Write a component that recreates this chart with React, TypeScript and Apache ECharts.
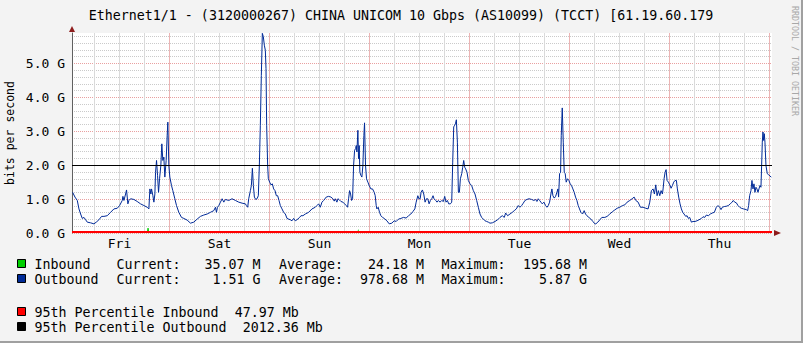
import React, { useEffect, useRef } from 'react';
import * as echarts from 'echarts';

const TITLE = 'Ethernet1/1 - (3120000267) CHINA UNICOM 10 Gbps (AS10099) (TCCT) [61.19.60.179';
const Y_LABEL = 'bits per second';
const WATERMARK = 'RRDTOOL / TOBI OETIKER';

// hours counted from Fri 00:00
const DAY_NAMES = ['Fri', 'Sat', 'Sun', 'Mon', 'Tue', 'Wed', 'Thu'];
const DAY_LABEL_HOURS = [12, 36, 60, 84, 108, 132, 156];
const MIDNIGHT_HOURS = [24, 48, 72, 96, 120, 144, 168];
const SIX_HOUR_GRID = [6, 12, 18, 30, 36, 42, 54, 60, 66, 78, 84, 90, 102, 108, 114, 126, 132, 138, 150, 156, 162];
const X_RANGE = [0.6, 168.6];
const Y_MAX = 5.9; // Gbps
const Y_STEP = 0.2;

const P95_IN = 0.04797; // Gbps
const P95_OUT = 2.01236; // Gbps

// [hour, Gbps]
const INBOUND: [number, number][] = [
  [0.75, 0.03], [18.6, 0.03], [18.7, 0.15], [19.0, 0.15], [19.1, 0.03],
  [63.1, 0.03], [63.3, 0.06], [63.5, 0.03], [66.2, 0.03], [66.4, 0.07], [66.6, 0.03],
  [69.1, 0.03], [69.3, 0.12], [69.5, 0.03], [112.5, 0.03], [112.7, 0.07], [112.9, 0.03],
  [158.0, 0.03], [158.15, 0.06], [158.3, 0.03], [168.43, 0.035],
];

const OUTBOUND: [number, number][] = [
  [0.75, 1.20], [1.31, 1.06], [1.87, 0.96], [2.27, 0.71], [2.67, 0.56], [3.07, 0.43], [3.47, 0.46], [3.87, 0.39],
  [4.27, 0.32], [5.07, 0.30], [5.86, 0.27], [6.42, 0.32], [7.06, 0.39], [7.70, 0.49], [8.26, 0.49], [9.06, 0.51],
  [9.86, 0.61], [10.66, 0.71], [11.46, 0.73], [12.02, 0.81], [12.66, 0.96], [12.82, 1.08], [13.06, 0.96], [13.46, 1.15],
  [13.69, 1.27], [14.01, 0.86], [14.25, 0.96], [14.65, 1.01], [15.45, 0.99], [16.25, 0.93], [17.05, 0.86], [17.85, 0.81],
  [18.65, 0.76], [19.05, 0.71], [19.29, 1.30], [19.53, 1.15], [19.69, 1.30], [20.01, 1.10], [20.25, 0.91], [20.49, 1.15],
  [20.65, 1.79], [20.89, 2.14], [21.13, 1.70], [21.37, 1.20], [21.61, 1.60], [21.92, 1.99], [22.16, 2.63], [22.40, 2.14],
  [22.64, 2.24], [22.88, 1.65], [23.20, 2.14], [23.44, 2.88], [23.60, 3.27], [23.84, 1.99], [24.08, 1.65], [24.48, 1.40],
  [24.80, 1.25], [25.28, 1.01], [25.68, 0.81], [26.24, 0.61], [26.88, 0.46], [27.44, 0.43], [28.24, 0.38], [29.04, 0.29],
  [29.83, 0.32], [30.63, 0.41], [31.43, 0.49], [32.23, 0.53], [33.03, 0.56], [33.83, 0.61], [34.63, 0.66], [35.03, 0.76],
  [35.27, 0.61], [35.51, 0.76], [35.83, 0.81], [36.23, 0.91], [36.63, 1.01], [37.03, 0.91], [37.42, 0.99], [38.22, 0.96],
  [39.02, 1.01], [39.82, 0.96], [40.62, 0.91], [41.42, 0.88], [42.22, 0.86],
  [42.45, 0.81], [42.77, 0.76], [43.01, 1.01], [43.41, 1.25], [43.65, 1.40], [43.89, 1.91], [44.13, 1.40], [44.37, 1.06],
  [44.69, 0.99], [45.01, 1.01], [45.32, 1.10], [45.56, 1.99], [45.80, 3.18], [46.04, 4.65], [46.28, 5.89], [46.52, 5.79],
  [46.76, 5.54], [47.00, 5.39], [47.16, 4.85], [47.32, 3.18], [47.56, 1.99], [47.72, 1.60], [48.04, 1.50], [48.36, 1.42],
  [48.68, 1.45], [49.00, 1.30], [49.32, 1.25], [49.64, 1.10], [49.96, 1.10], [50.28, 0.96], [50.60, 0.81], [51.00, 0.71],
  [51.40, 0.61], [51.80, 0.56], [52.20, 0.43], [52.60, 0.41], [53.00, 0.39], [53.39, 0.36], [53.79, 0.43], [54.19, 0.36],
  [54.59, 0.39], [55.23, 0.46], [55.55, 0.51], [56.03, 0.51], [56.59, 0.56], [57.39, 0.61], [58.19, 0.71], [58.99, 0.76],
  [59.39, 0.81], [59.79, 0.86], [60.19, 0.76], [60.59, 0.91], [60.99, 0.96], [61.62, 1.06], [62.18, 1.08], [62.74, 1.06],
  [63.22, 1.01], [63.54, 0.94], [63.78, 1.01], [64.18, 0.91], [64.42, 1.01], [64.74, 0.98], [65.14, 0.93], [65.62, 0.91],
  [66.02, 0.86], [66.42, 0.81], [66.74, 0.76], [66.98, 1.01], [67.22, 1.25], [67.46, 1.15], [67.70, 0.96], [67.94, 1.01],
  [68.18, 1.99], [68.42, 2.44], [68.66, 2.49], [68.82, 2.58], [68.98, 2.39], [69.21, 3.03], [69.37, 2.19], [69.53, 2.58],
  [69.69, 1.79], [69.93, 1.70], [70.17, 1.65], [70.41, 1.99], [70.65, 2.88], [70.81, 3.25], [71.05, 1.99], [71.29, 1.60],
  [71.61, 1.50], [71.93, 1.40], [72.33, 1.30], [72.73, 1.30], [73.13, 1.20], [73.37, 1.10], [73.61, 0.81], [73.77, 0.71],
  [74.09, 0.76], [74.41, 0.61], [74.73, 0.51], [75.13, 0.46], [75.53, 0.43], [76.17, 0.36], [76.73, 0.27], [77.36, 0.29],
  [77.92, 0.36], [78.40, 0.34], [78.96, 0.41], [79.52, 0.43], [80.16, 0.46], [80.80, 0.44], [81.36, 0.51], [81.92, 0.56],
  [82.40, 0.63], [82.88, 0.71], [83.20, 0.91], [83.60, 1.10], [83.84, 1.01], [84.16, 1.01],
  [84.38, 1.20], [84.70, 1.27], [85.02, 1.15], [85.34, 0.91], [85.66, 1.01], [85.98, 1.01], [86.30, 0.86], [86.62, 0.96],
  [86.94, 1.01], [87.25, 1.10], [87.49, 1.01], [87.89, 0.96], [88.21, 0.91], [88.53, 0.96], [88.93, 0.91], [89.33, 0.96],
  [89.73, 0.93], [90.05, 1.08], [90.37, 0.91], [90.69, 0.96], [91.01, 0.86], [91.41, 0.86], [91.73, 0.91], [91.97, 2.09],
  [92.21, 3.13], [92.45, 3.18], [92.61, 3.22], [92.85, 3.34], [93.09, 2.68], [93.33, 1.20], [93.57, 1.20], [93.81, 1.60],
  [94.13, 1.75], [94.37, 1.94], [94.61, 2.14], [94.85, 1.94], [95.08, 1.89], [95.40, 1.79], [95.72, 1.55], [96.12, 1.45],
  [96.52, 1.40], [96.92, 1.25], [97.32, 1.15], [97.72, 0.96], [98.12, 0.76], [98.52, 0.56], [98.92, 0.46], [99.32, 0.41],
  [99.72, 0.36], [100.12, 0.34], [100.52, 0.32], [100.92, 0.29], [101.48, 0.30], [102.12, 0.34], [102.76, 0.39], [103.31, 0.46],
  [103.87, 0.51], [104.35, 0.46], [104.67, 0.59], [105.15, 0.51], [105.71, 0.56], [106.27, 0.61], [106.75, 0.66], [107.23, 0.71],
  [107.71, 0.81], [108.11, 0.76], [108.51, 0.81], [108.91, 0.88], [109.31, 0.96], [109.79, 0.99], [110.27, 1.01], [110.91, 0.99],
  [111.46, 0.96], [111.86, 0.99], [112.18, 0.93], [112.50, 1.01], [112.82, 0.96], [113.14, 0.91], [113.46, 0.86], [113.86, 0.91],
  [114.26, 0.81], [114.58, 0.76], [114.90, 0.81], [115.22, 0.91], [115.54, 1.15], [115.78, 1.30], [116.02, 1.10], [116.34, 1.03],
  [116.66, 1.08], [116.98, 1.20], [117.22, 1.30], [117.38, 1.06], [117.62, 1.75], [117.86, 1.79], [118.02, 2.88], [118.26, 3.69],
  [118.50, 2.68], [118.74, 1.79], [118.97, 1.75], [119.21, 1.50], [119.53, 1.60], [119.85, 1.55], [120.17, 1.45], [120.49, 1.40],
  [120.81, 1.30], [121.13, 1.20], [121.45, 1.06], [121.77, 0.96], [122.09, 0.81], [122.41, 0.71], [122.73, 0.61], [123.13, 0.56],
  [123.53, 0.66], [123.85, 0.56], [124.17, 0.51], [124.65, 0.46], [125.13, 0.41], [125.61, 0.34], [126.09, 0.27],
  [126.32, 0.27], [126.80, 0.32], [127.28, 0.39], [127.76, 0.46], [128.48, 0.46], [129.03, 0.49], [129.67, 0.56], [130.31, 0.63],
  [130.87, 0.68], [131.43, 0.73], [132.07, 0.76], [132.71, 0.81], [133.27, 0.83], [133.83, 0.91], [134.47, 0.96], [135.03, 1.01],
  [135.51, 1.06], [135.91, 0.96], [136.47, 0.91], [137.02, 0.76], [137.66, 0.76], [138.30, 0.73], [138.86, 0.71], [139.26, 0.91],
  [139.66, 1.25], [140.06, 1.30], [140.38, 1.15], [140.70, 1.42], [141.02, 1.10], [141.34, 1.25], [141.66, 1.10], [141.98, 1.25],
  [142.30, 1.15], [142.46, 1.30], [142.70, 1.60], [142.94, 1.79], [143.18, 1.87], [143.42, 1.55], [143.74, 1.50], [144.06, 1.42],
  [144.38, 1.32], [144.70, 1.40], [145.01, 1.50], [145.33, 1.55], [145.65, 1.55], [145.89, 1.30], [146.21, 1.06], [146.53, 0.86],
  [146.85, 0.71], [147.17, 0.61], [147.49, 0.56], [147.89, 0.49], [148.21, 0.51], [148.53, 0.43], [148.85, 0.46], [149.25, 0.32],
  [149.65, 0.34], [150.13, 0.34], [150.61, 0.36], [151.09, 0.39], [151.65, 0.43], [152.05, 0.48], [152.45, 0.46], [152.85, 0.53],
  [153.32, 0.51], [153.80, 0.56], [154.28, 0.59], [154.76, 0.61], [155.24, 0.76], [155.64, 0.81], [156.04, 0.76], [156.36, 0.69],
  [156.68, 0.76], [157.16, 0.78], [157.64, 0.79], [158.12, 0.81], [158.60, 0.86], [159.00, 0.91], [159.32, 0.96], [159.64, 0.91],
  [160.04, 0.89], [160.44, 0.81], [160.84, 0.76], [161.23, 0.73], [161.79, 0.71], [162.43, 0.69], [162.75, 0.66], [162.99, 0.81],
  [163.23, 1.10], [163.55, 1.25], [163.79, 1.55], [164.03, 1.30], [164.27, 1.45], [164.51, 1.20], [164.75, 1.35], [164.99, 1.30],
  [165.23, 1.20], [165.47, 1.30], [165.71, 1.40], [165.95, 1.35], [166.11, 1.99], [166.27, 2.68], [166.43, 2.98], [166.59, 2.73],
  [166.75, 2.93], [166.91, 2.68], [167.15, 1.99], [167.47, 1.75], [167.79, 1.72], [168.11, 1.68], [168.43, 1.65],
];

const STAT_NAMES = ['Inbound', 'Outbound'];
const STAT_COLORS = ['#00CF00', '#002A97'];
const STAT_CURRENT = ['35.07 M', '1.51 G'];
const STAT_AVERAGE = ['24.18 M', '978.68 M'];
const STAT_MAXIMUM = ['195.68 M', '5.87 G'];
const PERCENTILE_LABELS = ['95th Percentile Inbound  47.97 Mb', '95th Percentile Outbound  2012.36 Mb'];
const PERCENTILE_COLORS = ['#FF0000', '#000000'];

const MONO = '"DejaVu Sans Mono", monospace';
const MAJOR_GRID = '#E9A0A0';
const MINOR_GRID = '#CACACA';
const MAJOR_VGRID = '#ECB4B4';
const MINOR_VGRID = '#DADADA';

function txt(text: string, x: number, y: number, opts: any = {}) {
  const align = opts.align || 'left';
  const vAlign = opts.vAlign || 'middle';
  return {
    type: 'text',
    x,
    y,
    rotation: opts.rotation || 0,
    silent: true,
    z: 100,
    style: {
      text,
      x: 0,
      y: 0,
      fill: opts.fill || '#000000',
      font: `${opts.size || 13.3}px ${MONO}`,
      align,
      textAlign: align,
      verticalAlign: vAlign,
      textVerticalAlign: vAlign,
    },
  };
}

// vertical grid segments built from the grid hours: bottom, top, gap
const segments = (hours: number[]) =>
  hours.flatMap((h) => [[h, 0], [h, Y_MAX], [h, null]] as [number, number | null][]);

export default function App() {
  const ref = useRef<HTMLDivElement>(null);

  useEffect(() => {
    document.body.style.margin = '0';
    if (!ref.current) return;
    const chart = echarts.init(ref.current, undefined, { renderer: 'svg' });

    const legendRowY = [264, 279];
    const pctRowY = [312, 327];
    const graphic: any[] = [
      txt(TITLE, 401, 15, { align: 'center', size: 13.3 }),
      txt(Y_LABEL, 10, 133, { align: 'center', rotation: Math.PI / 2, size: 11.5 }),
      txt(WATERMARK, 795, 61, { align: 'center', rotation: -Math.PI / 2, size: 8.3, fill: '#A8A8A8' }),
      { type: 'polygon', silent: true, z: 100, shape: { points: [[69, 32], [75, 32], [72, 26]] }, style: { fill: '#8E1C1C' } },
      { type: 'polygon', silent: true, z: 100, shape: { points: [[774, 230], [774, 236], [781, 233]] }, style: { fill: '#8E1C1C' } },
      { type: 'line', silent: true, z: 100, shape: { x1: 802, y1: 0, x2: 802, y2: 343 }, style: { stroke: '#A0A0A0', lineWidth: 2 } },
      { type: 'line', silent: true, z: 100, shape: { x1: 0, y1: 342, x2: 803, y2: 342 }, style: { stroke: '#A0A0A0', lineWidth: 2 } },
    ];
    STAT_NAMES.forEach((name, i) => {
      const y = legendRowY[i];
      graphic.push({ type: 'rect', silent: true, z: 100, shape: { x: 17.5, y: y - 4.5, width: 8, height: 8 }, style: { fill: STAT_COLORS[i], stroke: '#000000', lineWidth: 1 } });
      graphic.push(txt(name, 34.5, y));
      graphic.push(txt('Current:', 116.5, y));
      graphic.push(txt(STAT_CURRENT[i], 260.5, y, { align: 'right' }));
      graphic.push(txt('Average:', 279, y));
      graphic.push(txt(STAT_AVERAGE[i], 424, y, { align: 'right' }));
      graphic.push(txt('Maximum:', 441.5, y));
      graphic.push(txt(STAT_MAXIMUM[i], 587, y, { align: 'right' }));
    });
    PERCENTILE_LABELS.forEach((label, i) => {
      const y = pctRowY[i];
      graphic.push({ type: 'rect', silent: true, z: 100, shape: { x: 17.5, y: y - 4.5, width: 8, height: 8 }, style: { fill: PERCENTILE_COLORS[i], stroke: '#000000', lineWidth: 1 } });
      graphic.push(txt(label, 34.5, y));
    });

    const isMajor = (v: number) => Math.abs(v - Math.round(v)) < 1e-6;

    chart.setOption({
      animation: false,
      backgroundColor: '#F3F3F3',
      grid: {
        left: 72,
        top: 33,
        width: 700,
        height: 200,
        show: true,
        backgroundColor: '#FFFFFF',
        borderWidth: 0,
      },
      xAxis: {
        type: 'value',
        min: X_RANGE[0],
        max: X_RANGE[1],
        axisLine: { show: false },
        axisTick: { show: false },
        splitLine: { show: false },
        axisLabel: {
          customValues: DAY_LABEL_HOURS,
          formatter: (v: number) => {
            const i = DAY_LABEL_HOURS.findIndex((h) => Math.abs(h - v) < 1e-6);
            return i >= 0 ? DAY_NAMES[i] : '';
          },
          color: '#000000',
          fontFamily: MONO,
          fontSize: 13,
          margin: 4,
        },
      },
      yAxis: {
        type: 'value',
        min: 0,
        max: Y_MAX,
        interval: Y_STEP,
        axisLine: { show: true, lineStyle: { color: '#606060', width: 1 } },
        axisTick: { show: false },
        axisLabel: {
          formatter: (v: number) => (isMajor(v) ? `${v.toFixed(1)} G` : ''),
          color: '#000000',
          fontFamily: MONO,
          fontSize: 13,
          margin: 7,
        },
        splitLine: {
          show: true,
          showMaxLine: false,
          lineStyle: { color: [MAJOR_GRID, MINOR_GRID, MINOR_GRID, MINOR_GRID, MINOR_GRID], type: [1, 1], width: 1 },
        },
      },
      series: [
        { type: 'line', data: segments(SIX_HOUR_GRID), showSymbol: false, lineStyle: { width: 1, color: MINOR_VGRID } },
        { type: 'line', data: segments(MIDNIGHT_HOURS), showSymbol: false, lineStyle: { width: 1, color: MAJOR_VGRID } },
        {
          name: 'Inbound',
          type: 'line',
          data: INBOUND,
          showSymbol: false,
          lineStyle: { width: 0, color: STAT_COLORS[0] },
          itemStyle: { color: STAT_COLORS[0] },
          areaStyle: { color: STAT_COLORS[0], opacity: 1 },
        },
        {
          name: 'Outbound',
          type: 'line',
          data: OUTBOUND,
          showSymbol: false,
          lineStyle: { width: 1, color: STAT_COLORS[1] },
          itemStyle: { color: STAT_COLORS[1] },
          markLine: {
            silent: true,
            symbol: ['none', 'none'],
            label: { show: false },
            data: [
              { yAxis: P95_IN, lineStyle: { color: PERCENTILE_COLORS[0], width: 2, type: 'solid' } },
              { yAxis: P95_OUT, lineStyle: { color: PERCENTILE_COLORS[1], width: 1, type: 'solid' } },
            ],
          },
        },
      ],
      graphic,
    });

    return () => chart.dispose();
  }, []);

  return <div ref={ref} style={{ width: 803, height: 343 }} />;
}
